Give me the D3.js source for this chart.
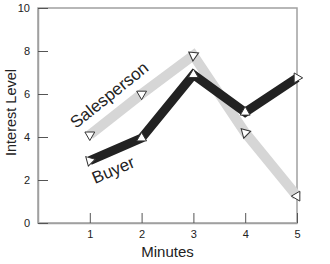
<!DOCTYPE html>
<html>
<head>
<meta charset="utf-8">
<script src="https://cdn.jsdelivr.net/npm/d3@7"></script>
<style>
  html, body { margin: 0; padding: 0; background: #fff; }
  svg { display: block; font-family: "Liberation Sans", Arial, Helvetica, sans-serif; }
</style>
</head>
<body>
<svg id="chart" width="330" height="264"></svg>
<script>
// ---- data ----
const minutes = [1, 2, 3, 4, 5];
const salesperson = [4.1, 6.0, 7.8, 4.2, 1.25];
const buyer = [2.9, 3.95, 6.9, 5.15, 6.75];
const xTicks = [1, 2, 3, 4, 5];
const yTicks = [0, 2, 4, 6, 8, 10];
const seriesNames = ["Salesperson", "Buyer"];
const xTitle = "Minutes";
const yTitle = "Interest Level";

// ---- layout ----
const W = 330, H = 264;
const m = { left: 38, right: 33, top: 8, bottom: 41 };
const x = d3.scaleLinear().domain([0, 5]).range([m.left, W - m.right]);
const y = d3.scaleLinear().domain([0, 10]).range([H - m.bottom, m.top]);

const svg = d3.select("#chart");
const axisCol = "#a0a0a0";

// frame
svg.append("rect")
  .attr("x", x(0)).attr("y", y(10))
  .attr("width", x(5) - x(0)).attr("height", y(0) - y(10))
  .attr("fill", "none").attr("stroke", axisCol).attr("stroke-width", 1.5);

// axes (ticks inward)
const xAxis = d3.axisBottom(x).tickValues(xTicks).tickFormat(d3.format("d"))
  .tickSizeInner(-10).tickSizeOuter(0).tickPadding(7);
const gx = svg.append("g").attr("transform", `translate(0,${y(0)})`).call(xAxis);
gx.select(".domain").attr("stroke", axisCol).attr("stroke-width", 1.5);
gx.selectAll(".tick line").attr("stroke", "#555");
gx.selectAll(".tick text").attr("font-size", 11).attr("fill", "#222").attr("font-family", "Liberation Sans, Arial, sans-serif");

const yAxis = d3.axisLeft(y).tickValues(yTicks).tickFormat(d3.format("d"))
  .tickSizeInner(-10).tickSizeOuter(0).tickPadding(8);
const gy = svg.append("g").attr("transform", `translate(${x(0)},0)`).call(yAxis);
gy.select(".domain").attr("stroke", axisCol).attr("stroke-width", 1.5);
gy.selectAll(".tick line").attr("stroke", "#555");
gy.selectAll(".tick text").attr("font-size", 11).attr("fill", "#222").attr("font-family", "Liberation Sans, Arial, sans-serif");

// titles
svg.append("text").attr("x", (x(0) + x(5)) / 2).attr("y", 257)
  .attr("text-anchor", "middle").attr("font-size", 15).attr("fill", "#222").text(xTitle);
svg.append("text").attr("transform", `translate(16,${(y(0) + y(10)) / 2 - 3}) rotate(-90)`)
  .attr("text-anchor", "middle").attr("font-size", 14.5).attr("fill", "#222").text(yTitle);

// lines
const line = d3.line().x((d, i) => x(minutes[i])).y(d => y(d));
svg.append("path").datum(salesperson).attr("d", line)
  .attr("fill", "none").attr("stroke", "#d6d6d6").attr("stroke-width", 10)
  .attr("stroke-linejoin", "miter").attr("stroke-linecap", "butt");
svg.append("path").datum(buyer).attr("d", line)
  .attr("fill", "none").attr("stroke", "#222").attr("stroke-width", 9)
  .attr("stroke-linejoin", "miter").attr("stroke-linecap", "butt");

// markers (open triangles)
const tri = d3.symbol().type(d3.symbolTriangle).size(42);
const sRot = [180, 180, 185, 195, -90];
const bRot = [-45, 0, 0, 0, 90];
svg.append("g").selectAll("path").data(salesperson).join("path")
  .attr("d", tri)
  .attr("transform", (d, i) => `translate(${x(minutes[i])},${y(d)}) rotate(${sRot[i]})`)
  .attr("fill", "#fff").attr("stroke", "#333").attr("stroke-width", 1);
svg.append("g").selectAll("path").data(buyer).join("path")
  .attr("d", tri)
  .attr("transform", (d, i) => `translate(${x(minutes[i])},${y(d)}) rotate(${bRot[i]})`)
  .attr("fill", "#fff").attr("stroke", "#333").attr("stroke-width", 1);

// series labels
svg.append("text").attr("transform", "translate(76,129) rotate(-38.8)")
  .attr("font-size", 17).attr("fill", "#222").text(seriesNames[0]);
svg.append("text").attr("transform", "translate(95,184) rotate(-23)")
  .attr("font-size", 17).attr("fill", "#222").text(seriesNames[1]);
</script>
</body>
</html>
